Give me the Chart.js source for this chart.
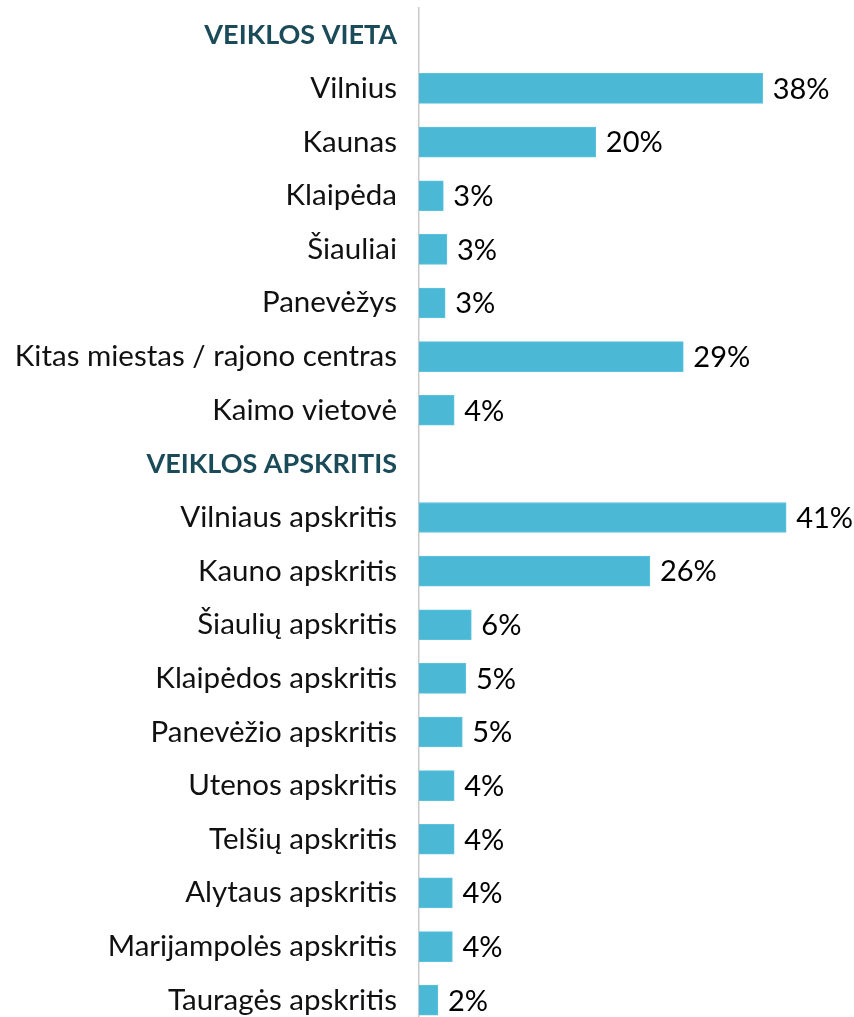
<!DOCTYPE html>
<html>
<head>
<meta charset="utf-8">
<script src="https://cdn.jsdelivr.net/npm/chart.js@4/dist/chart.umd.min.js"></script>
<style>
  html, body { margin:0; padding:0; background:#fff; width:854px; height:1017px; overflow:hidden; }
  #wrap { position:absolute; left:0; top:0; width:854px; height:1027px; }
</style>
</head>
<body>
<div id="wrap"><canvas id="chart" width="854" height="1027"></canvas></div>
<script>
// rows, header rows have null values
const categories = [
  "VEIKLOS VIETA",
  "Vilnius", "Kaunas", "Klaipėda", "Šiauliai", "Panevėžys",
  "Kitas miestas / rajono centras", "Kaimo vietovė",
  "VEIKLOS APSKRITIS",
  "Vilniaus apskritis", "Kauno apskritis", "Šiaulių apskritis",
  "Klaipėdos apskritis", "Panevėžio apskritis", "Utenos apskritis",
  "Telšių apskritis", "Alytaus apskritis", "Marijampolės apskritis",
  "Tauragės apskritis"
];
const shares = [
  null,
  38.1, 19.6, 2.7, 3.1, 2.9, 29.3, 3.9,
  null,
  40.7, 25.6, 5.8, 5.2, 4.8, 3.9, 3.9, 3.7, 3.7, 2.1
];
const headerRows = [0, 8];

const BAR = "#4BB8D6";
const HEAD = "#1B4B59";
const FONT = "Lato";

// value labels next to the bars
const valueLabels = {
  id: "valueLabels",
  afterDatasetsDraw(chart){
    const ctx = chart.ctx;
    const meta = chart.getDatasetMeta(0);
    ctx.save();
    ctx.font = `29px ${FONT}`;
    ctx.fillStyle = "#000";
    ctx.textBaseline = "middle";
    ctx.textAlign = "left";
    meta.data.forEach((bar, i) => {
      const v = shares[i];
      if(v == null) return;
      ctx.fillText(Math.round(v) + "%", bar.x + 10, bar.y + 1);
    });
    ctx.restore();
  }
};

new Chart(document.getElementById("chart").getContext("2d"), {
  type: "bar",
  data: {
    labels: categories,
    datasets: [{
      data: shares,
      backgroundColor: BAR,
      borderColor: "#5cc3dd",
      borderWidth: 1,
      barThickness: 30
    }]
  },
  options: {
    indexAxis: "y",
    responsive: false,
    animation: false,
    layout: { padding: { top: 8, right: 2, bottom: 0, left: 0 } },
    plugins: { legend: { display:false }, tooltip: { enabled:false } },
    scales: {
      x: { display:false, min:0, max:48 },
      y: {
        afterFit(scale){
          scale.width = 419;
          scale.paddingTop = 0;
          scale.paddingBottom = 0;
        },
        grid: { display:false, drawTicks:false },
        border: { display:true, color:"#c9c9c9", width:1.5 },
        ticks: {
          padding: 22,
          autoSkip: false,
          color: (c) => headerRows.includes(c.index) ? HEAD : "#111",
          font: (c) => headerRows.includes(c.index)
            ? { family: FONT, size: 27, weight: "bold" }
            : { family: FONT, size: 29.5 }
        }
      }
    }
  },
  plugins: [valueLabels]
});
</script>
</body>
</html>
